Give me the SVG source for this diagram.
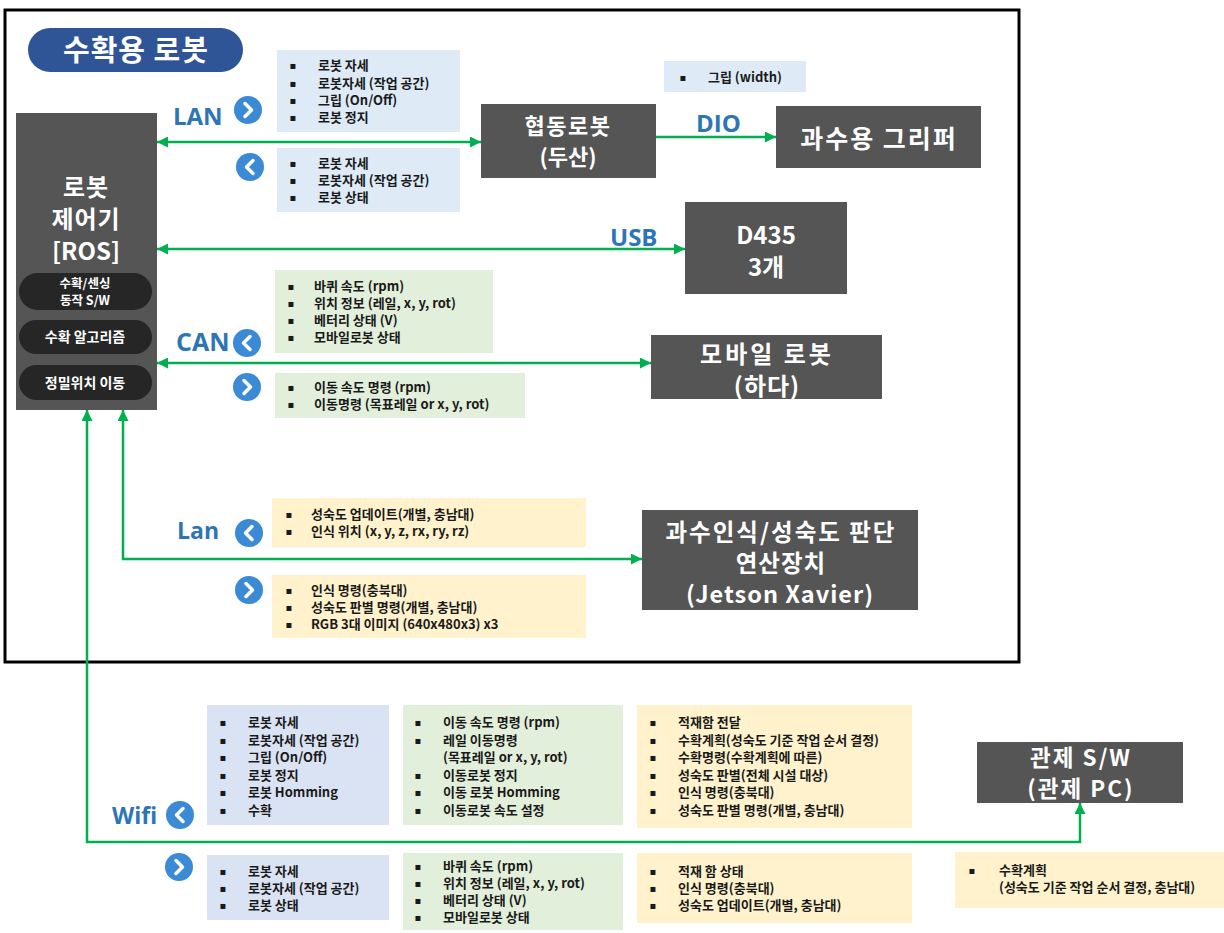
<svg xmlns="http://www.w3.org/2000/svg" width="1224" height="933" viewBox="0 0 1224 933">
<style>
.nd{fill:#555555}
.pill{fill:#262626}
.nt{fill:#ffffff;font-family:"Noto Sans CJK KR","Noto Sans",sans-serif;font-weight:700;text-anchor:middle}
.lb{fill:#2e75b6;font-family:"Open Sans","Noto Sans",sans-serif;font-weight:700}
.ls{fill:#1a1a1a;font-family:"Noto Sans CJK KR","Noto Sans",sans-serif;font-size:13px;font-weight:700}
.bu{fill:#1a1a1a;font-family:"DejaVu Sans",sans-serif;font-size:10px;text-anchor:middle}
.bb{fill:#deebf7}
.bb2{fill:#dae3f3}
.gb{fill:#e2efda}
.yb{fill:#fff2cc}
.cn{fill:none;stroke:#00b050;stroke-width:2.5}
</style>
<defs>
<marker id="ah" viewBox="0 0 10 10" refX="10" refY="5" markerWidth="11" markerHeight="11" markerUnits="userSpaceOnUse" orient="auto-start-reverse">
<path d="M0,0 L10,5 L0,10 z" fill="#00b050"/>
</marker>
<g id="chR"><circle r="14" fill="#3a8ad6"/><polyline points="-3,-6.5 3.5,0 -3,6.5" fill="none" stroke="#fff" stroke-width="3.5" stroke-linecap="round" stroke-linejoin="round"/></g>
<g id="chL"><circle r="14" fill="#3a8ad6"/><polyline points="3,-6.5 -3.5,0 3,6.5" fill="none" stroke="#fff" stroke-width="3.5" stroke-linecap="round" stroke-linejoin="round"/></g>
</defs>
<rect width="1224" height="933" fill="#ffffff"/>
<rect x="5" y="10" width="1014" height="652" fill="none" stroke="#000" stroke-width="3"/>

<g id="title">
<rect x="28" y="28" width="215" height="44" rx="22" fill="#2f5597"/>
<text class="nt" x="136" y="61" font-size="29" letter-spacing="1">수확용 로봇</text>
</g>

<g id="controller">
<rect class="nd" x="16" y="113" width="141" height="297"/>
<text class="nt" x="86" y="196" font-size="24" letter-spacing="1">로봇</text>
<text class="nt" x="86" y="228" font-size="24" letter-spacing="1">제어기</text>
<text class="nt" x="86" y="260" font-size="24">[ROS]</text>
<rect class="pill" x="19" y="273" width="133" height="37" rx="18.5"/>
<text class="nt" x="85" y="288" font-size="12.5">수확/센싱</text>
<text class="nt" x="85" y="305" font-size="12.5">동작 S/W</text>
<rect class="pill" x="19" y="320" width="133" height="34" rx="17"/>
<text class="nt" x="85" y="342" font-size="14">수확 알고리즘</text>
<rect class="pill" x="19" y="365" width="133" height="35" rx="17.5"/>
<text class="nt" x="85" y="388" font-size="14">정밀위치 이동</text>
</g>

<g id="cobot">
<rect class="nd" x="481" y="104" width="175" height="74"/>
<text class="nt" x="568" y="134" font-size="22" letter-spacing="1.5">협동로봇</text>
<text class="nt" x="568" y="165" font-size="22">(두산)</text>
</g>

<g id="gripper">
<rect class="nd" x="776" y="106" width="205" height="62"/>
<text class="nt" x="879" y="148" font-size="25" letter-spacing="2">과수용 그리퍼</text>
</g>

<g id="d435">
<rect class="nd" x="685" y="202" width="162" height="92"/>
<text class="nt" x="766" y="244" font-size="24">D435</text>
<text class="nt" x="766" y="276" font-size="24">3개</text>
</g>

<g id="mobile">
<rect class="nd" x="651" y="335" width="231" height="64"/>
<text class="nt" x="767" y="363" font-size="24" letter-spacing="3">모바일 로봇</text>
<text class="nt" x="767" y="395" font-size="24" letter-spacing="1">(하다)</text>
</g>

<g id="jetson">
<rect class="nd" x="642" y="510" width="276" height="100"/>
<text class="nt" x="781" y="541" font-size="23.5" letter-spacing="2">과수인식/성숙도 판단</text>
<text class="nt" x="781" y="572" font-size="23.5" letter-spacing="1">연산장치</text>
<text class="nt" x="780" y="603" font-size="23.5" letter-spacing="1">(Jetson Xavier)</text>
</g>

<g id="control">
<rect class="nd" x="977" y="742" width="206" height="61"/>
<text class="nt" x="1081" y="766" font-size="22.5" letter-spacing="2">관제 S/W</text>
<text class="nt" x="1081" y="797" font-size="22.5" letter-spacing="2">(관제 PC)</text>
</g>

<g id="connectors">
<path class="cn" d="M157,142 H481" marker-start="url(#ah)" marker-end="url(#ah)"/>
<path class="cn" d="M656,137 H776" marker-end="url(#ah)"/>
<path class="cn" d="M157,249 H685" marker-start="url(#ah)" marker-end="url(#ah)"/>
<path class="cn" d="M157,363 H651" marker-start="url(#ah)" marker-end="url(#ah)"/>
<path class="cn" d="M642,559 H123 V410" marker-start="url(#ah)" marker-end="url(#ah)"/>
<path class="cn" d="M87,410 V842 H1080 V803" marker-start="url(#ah)" marker-end="url(#ah)"/>
</g>

<g id="labels">
<text class="lb" x="173" y="125" font-size="24">LAN</text>
<use href="#chR" x="248" y="110"/>
<use href="#chL" x="250" y="167"/>
<text class="lb" x="696" y="132" font-size="24">DIO</text>
<text class="lb" x="610" y="246" font-size="24">USB</text>
<text class="lb" x="176" y="351" font-size="25">CAN</text>
<use href="#chL" x="247" y="343"/>
<use href="#chR" x="247" y="387"/>
<text class="lb" x="177" y="539" font-size="23">Lan</text>
<use href="#chL" x="249" y="533"/>
<use href="#chR" x="249" y="590"/>
<text class="lb" x="112" y="824" font-size="23">Wifi</text>
<use href="#chL" x="180" y="815"/>
<use href="#chR" x="179" y="867"/>
</g>

<g id="lan-out">
<rect class="bb" x="277" y="50" width="183" height="82"/>
<text class="bu" x="293" y="69">▪</text><text class="ls" x="318" y="70">로봇 자세</text>
<text class="bu" x="293" y="86.5">▪</text><text class="ls" x="318" y="87.5">로봇자세 (작업 공간)</text>
<text class="bu" x="293" y="104">▪</text><text class="ls" x="318" y="105">그립 (On/Off)</text>
<text class="bu" x="293" y="121">▪</text><text class="ls" x="318" y="122">로봇 정지</text>
</g>
<g id="lan-in">
<rect class="bb" x="277" y="148" width="183" height="64"/>
<text class="bu" x="293" y="167">▪</text><text class="ls" x="318" y="168">로봇 자세</text>
<text class="bu" x="293" y="184">▪</text><text class="ls" x="318" y="185">로봇자세 (작업 공간)</text>
<text class="bu" x="293" y="201">▪</text><text class="ls" x="318" y="202">로봇 상태</text>
</g>
<g id="dio-out">
<rect class="bb" x="664" y="61" width="142" height="31"/>
<text class="bu" x="683" y="81">▪</text><text class="ls" x="708" y="82">그립 (width)</text>
</g>
<g id="can-in">
<rect class="gb" x="275" y="270" width="218" height="83"/>
<text class="bu" x="291" y="290">▪</text><text class="ls" x="314" y="291">바퀴 속도 (rpm)</text>
<text class="bu" x="291" y="307">▪</text><text class="ls" x="314" y="308">위치 정보 (레일, x, y, rot)</text>
<text class="bu" x="291" y="324">▪</text><text class="ls" x="314" y="325">베터리 상태 (V)</text>
<text class="bu" x="291" y="341">▪</text><text class="ls" x="314" y="342">모바일로봇 상태</text>
</g>
<g id="can-out">
<rect class="gb" x="275" y="373" width="250" height="45"/>
<text class="bu" x="291" y="391">▪</text><text class="ls" x="314" y="392">이동 속도 명령 (rpm)</text>
<text class="bu" x="291" y="408">▪</text><text class="ls" x="314" y="409">이동명령 (목표레일 or x, y, rot)</text>
</g>
<g id="jet-in">
<rect class="yb" x="272" y="498" width="314" height="49"/>
<text class="bu" x="289" y="518">▪</text><text class="ls" x="311" y="519">성숙도 업데이트(개별, 충남대)</text>
<text class="bu" x="289" y="535">▪</text><text class="ls" x="311" y="536">인식 위치 (x, y, z, rx, ry, rz)</text>
</g>
<g id="jet-out">
<rect class="yb" x="272" y="575" width="314" height="63"/>
<text class="bu" x="289" y="594">▪</text><text class="ls" x="311" y="595">인식 명령(충북대)</text>
<text class="bu" x="289" y="611">▪</text><text class="ls" x="311" y="612">성숙도 판별 명령(개별, 충남대)</text>
<text class="bu" x="289" y="628">▪</text><text class="ls" x="311" y="629">RGB 3대 이미지 (640x480x3) x3</text>
</g>

<g id="wifi-robot-out">
<rect class="bb2" x="207" y="705" width="182" height="120"/>
<text class="bu" x="223" y="726">▪</text><text class="ls" x="248" y="727">로봇 자세</text>
<text class="bu" x="223" y="743.5">▪</text><text class="ls" x="248" y="744.5">로봇자세 (작업 공간)</text>
<text class="bu" x="223" y="761">▪</text><text class="ls" x="248" y="762">그립 (On/Off)</text>
<text class="bu" x="223" y="778.5">▪</text><text class="ls" x="248" y="779.5">로봇 정지</text>
<text class="bu" x="223" y="796">▪</text><text class="ls" x="248" y="797">로봇 Homming</text>
<text class="bu" x="223" y="813.5">▪</text><text class="ls" x="248" y="814.5">수확</text>
</g>
<g id="wifi-mobile-out">
<rect class="gb" x="403" y="705" width="220" height="120"/>
<text class="bu" x="418" y="726">▪</text><text class="ls" x="443" y="727">이동 속도 명령 (rpm)</text>
<text class="bu" x="418" y="743.5">▪</text><text class="ls" x="443" y="744.5">레일 이동명령</text>
<text class="ls" x="443" y="762">(목표레일 or x, y, rot)</text>
<text class="bu" x="418" y="778.5">▪</text><text class="ls" x="443" y="779.5">이동로봇 정지</text>
<text class="bu" x="418" y="796">▪</text><text class="ls" x="443" y="797">이동 로봇 Homming</text>
<text class="bu" x="418" y="813.5">▪</text><text class="ls" x="443" y="814.5">이동로봇 속도 설정</text>
</g>
<g id="wifi-plan-out">
<rect class="yb" x="637" y="705" width="275" height="123"/>
<text class="bu" x="653" y="726">▪</text><text class="ls" x="678" y="727">적재함 전달</text>
<text class="bu" x="653" y="743.5">▪</text><text class="ls" x="678" y="744.5">수확계획(성숙도 기준 작업 순서 결정)</text>
<text class="bu" x="653" y="761">▪</text><text class="ls" x="678" y="762">수확명령(수확계획에 따른)</text>
<text class="bu" x="653" y="778.5">▪</text><text class="ls" x="678" y="779.5">성숙도 판별(전체 시설 대상)</text>
<text class="bu" x="653" y="796">▪</text><text class="ls" x="678" y="797">인식 명령(충북대)</text>
<text class="bu" x="653" y="813.5">▪</text><text class="ls" x="678" y="814.5">성숙도 판별 명령(개별, 충남대)</text>
</g>
<g id="wifi-robot-in">
<rect class="bb2" x="207" y="855" width="182" height="65"/>
<text class="bu" x="223" y="875">▪</text><text class="ls" x="248" y="876">로봇 자세</text>
<text class="bu" x="223" y="892">▪</text><text class="ls" x="248" y="893">로봇자세 (작업 공간)</text>
<text class="bu" x="223" y="909">▪</text><text class="ls" x="248" y="910">로봇 상태</text>
</g>
<g id="wifi-mobile-in">
<rect class="gb" x="403" y="853" width="220" height="77"/>
<text class="bu" x="418" y="870">▪</text><text class="ls" x="443" y="871">바퀴 속도 (rpm)</text>
<text class="bu" x="418" y="887">▪</text><text class="ls" x="443" y="888">위치 정보 (레일, x, y, rot)</text>
<text class="bu" x="418" y="904">▪</text><text class="ls" x="443" y="905">베터리 상태 (V)</text>
<text class="bu" x="418" y="921">▪</text><text class="ls" x="443" y="922">모바일로봇 상태</text>
</g>
<g id="wifi-plan-in">
<rect class="yb" x="637" y="853" width="275" height="70"/>
<text class="bu" x="653" y="875">▪</text><text class="ls" x="678" y="876">적재 함 상태</text>
<text class="bu" x="653" y="892">▪</text><text class="ls" x="678" y="893">인식 명령(충북대)</text>
<text class="bu" x="653" y="909">▪</text><text class="ls" x="678" y="910">성숙도 업데이트(개별, 충남대)</text>
</g>
<g id="control-out">
<rect class="yb" x="955" y="852" width="269" height="56"/>
<text class="bu" x="972" y="874">▪</text><text class="ls" x="999" y="875">수확계획</text>
<text class="ls" x="999" y="892">(성숙도 기준 작업 순서 결정, 충남대)</text>
</g>
</svg>
